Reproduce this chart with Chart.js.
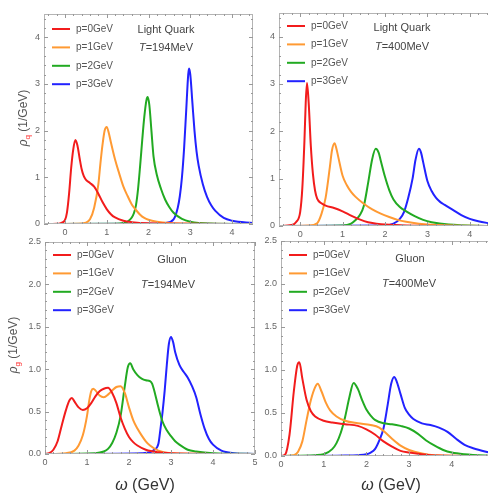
<!DOCTYPE html>
<html>
<head>
<meta charset="utf-8">
<script src="https://cdn.jsdelivr.net/npm/chart.js@4.4.1/dist/chart.umd.min.js"></script>
<style>
body { margin: 0; width: 488px; height: 493px; overflow: hidden; position: relative; background: #fff; font-family: "Liberation Sans", Arial, sans-serif; }
canvas { position: absolute; }
.note { position: absolute; font-size: 11px; color: #444; transform: translate(-50%, -50%); white-space: nowrap; }
.ytitle { position: absolute; font-size: 12px; color: #555; transform: translate(-50%, -50%) rotate(-90deg); white-space: nowrap; }
.ytitle sub { color: #f22; font-size: 8px; }
.xtitle { position: absolute; font-size: 16px; color: #333; transform: translate(-50%, -50%); white-space: nowrap; }
</style>
</head>
<body>
<canvas id="qLow" width="260" height="244" style="left:0;top:0"></canvas>
<canvas id="qHigh" width="260" height="246" style="left:235px;top:0"></canvas>
<canvas id="gLow" width="262" height="248" style="left:0;top:226px"></canvas>
<canvas id="gHigh" width="264" height="250" style="left:236px;top:226px"></canvas>

<div class="ytitle" style="left:24px;top:118px"><i>ρ</i><sub>q</sub> (1/GeV)</div>
<div class="ytitle" style="left:14px;top:345px"><i>ρ</i><sub>g</sub> (1/GeV)</div>
<div class="xtitle" style="left:145px;top:485px"><i>ω</i> (GeV)</div>
<div class="xtitle" style="left:391px;top:485px"><i>ω</i> (GeV)</div>

<div class="note" style="left:166px;top:29px">Light Quark</div>
<div class="note" style="left:166px;top:47px"><i>T</i>=194MeV</div>
<div class="note" style="left:402px;top:27px">Light Quark</div>
<div class="note" style="left:402px;top:46px"><i>T</i>=400MeV</div>
<div class="note" style="left:172px;top:259px">Gluon</div>
<div class="note" style="left:168px;top:284px"><i>T</i>=194MeV</div>
<div class="note" style="left:410px;top:258px">Gluon</div>
<div class="note" style="left:409px;top:283px"><i>T</i>=400MeV</div>

<script>
// series labels and colours
const momentumLabels = ['p=0GeV', 'p=1GeV', 'p=2GeV', 'p=3GeV'];
const lineColors = ['#f21c1c', '#ff9a33', '#22aa22', '#2222ff'];

// tick labels
const quarkXTicks = [0, 1, 2, 3, 4];
const quarkYTicks = [0, 1, 2, 3, 4];
const quarkYLabels = ['0', '1', '2', '3', '4'];
const gluonXTicks = [0, 1, 2, 3, 4, 5];
const gluonYTicks = [0, 0.5, 1, 1.5, 2, 2.5];
const gluonYLabels = ['0.0', '0.5', '1.0', '1.5', '2.0', '2.5'];

// light quark, T = 194 MeV
const q194p0x = [-0.5, -0.2, -0.1, 0, 0.05, 0.1, 0.15, 0.2, 0.25, 0.3, 0.35, 0.4, 0.45, 0.5, 0.6, 0.7, 0.8, 0.9, 1.0, 1.1, 1.2, 1.4, 1.6, 2.0, 3.0, 4.5];
const q194p0y = [0, 0.005, 0.02, 0.08, 0.25, 0.65, 1.2, 1.6, 1.8, 1.68, 1.42, 1.18, 1.03, 0.95, 0.88, 0.8, 0.65, 0.47, 0.32, 0.21, 0.14, 0.07, 0.04, 0.015, 0.005, 0];
const q194p1x = [-0.5, 0.3, 0.5, 0.6, 0.7, 0.8, 0.85, 0.9, 0.95, 1.0, 1.05, 1.1, 1.2, 1.3, 1.4, 1.5, 1.6, 1.7, 1.8, 1.9, 2.0, 2.2, 2.5, 3.0, 4.5];
const q194p1y = [0, 0.005, 0.03, 0.1, 0.35, 0.85, 1.3, 1.7, 2.0, 2.08, 1.95, 1.75, 1.38, 1.08, 0.8, 0.6, 0.42, 0.3, 0.2, 0.13, 0.09, 0.05, 0.02, 0.008, 0];
const q194p2x = [-0.5, 1.2, 1.4, 1.5, 1.6, 1.65, 1.7, 1.75, 1.8, 1.85, 1.9, 1.95, 1.98, 2.02, 2.07, 2.12, 2.2, 2.3, 2.4, 2.5, 2.6, 2.8, 3.0, 3.5, 4.5];
const q194p2y = [0, 0.005, 0.02, 0.05, 0.14, 0.23, 0.4, 0.75, 1.25, 1.8, 2.3, 2.65, 2.72, 2.55, 2.0, 1.45, 1.05, 0.75, 0.52, 0.36, 0.24, 0.11, 0.05, 0.01, 0];
const q194p3x = [-0.5, 2.2, 2.4, 2.6, 2.7, 2.75, 2.8, 2.85, 2.9, 2.95, 2.97, 3.0, 3.05, 3.1, 3.15, 3.2, 3.3, 3.4, 3.5, 3.6, 3.8, 4.0, 4.5];
const q194p3y = [0, 0.005, 0.02, 0.1, 0.35, 0.6, 1.0, 1.6, 2.4, 3.2, 3.33, 3.2, 2.6, 2.0, 1.55, 1.25, 0.85, 0.58, 0.4, 0.28, 0.13, 0.07, 0.02];

// light quark, T = 400 MeV
const q400p0x = [-0.5, -0.2, -0.1, 0, 0.05, 0.1, 0.13, 0.16, 0.2, 0.25, 0.3, 0.35, 0.4, 0.5, 0.6, 0.8, 1.0, 1.2, 1.4, 1.6, 1.8, 2.0, 2.5, 4.5];
const q400p0y = [0, 0.02, 0.08, 0.3, 0.8, 1.8, 2.6, 3.02, 2.6, 1.7, 1.1, 0.75, 0.58, 0.48, 0.43, 0.38, 0.31, 0.22, 0.14, 0.08, 0.05, 0.03, 0.01, 0];
const q400p1x = [-0.5, 0.2, 0.4, 0.5, 0.6, 0.7, 0.75, 0.81, 0.85, 0.9, 1.0, 1.1, 1.2, 1.3, 1.5, 1.7, 1.9, 2.1, 2.3, 2.5, 2.8, 3.2, 4.5];
const q400p1y = [0, 0.01, 0.06, 0.25, 0.6, 1.25, 1.6, 1.75, 1.65, 1.45, 1.06, 0.86, 0.72, 0.62, 0.47, 0.35, 0.26, 0.19, 0.13, 0.09, 0.05, 0.02, 0];
const q400p2x = [-0.5, 1.0, 1.2, 1.3, 1.4, 1.5, 1.6, 1.7, 1.78, 1.85, 1.9, 2.0, 2.1, 2.2, 2.35, 2.5, 2.7, 2.9, 3.1, 3.5, 4.5];
const q400p2y = [0, 0.01, 0.05, 0.12, 0.22, 0.42, 0.9, 1.42, 1.63, 1.55, 1.38, 1.04, 0.76, 0.56, 0.4, 0.31, 0.21, 0.13, 0.08, 0.03, 0];
const q400p3x = [-0.5, 2.0, 2.2, 2.35, 2.45, 2.55, 2.65, 2.72, 2.8, 2.85, 2.9, 3.0, 3.1, 3.2, 3.3, 3.4, 3.6, 3.8, 4.0, 4.2, 4.5];
const q400p3y = [0, 0.01, 0.05, 0.15, 0.3, 0.6, 1.0, 1.4, 1.63, 1.55, 1.35, 0.95, 0.74, 0.6, 0.51, 0.45, 0.34, 0.23, 0.15, 0.1, 0.05];

// gluon, T = 194 MeV
const g194p0x = [0, 0.1, 0.2, 0.3, 0.4, 0.5, 0.58, 0.64, 0.7, 0.8, 0.9, 1.0, 1.1, 1.2, 1.3, 1.4, 1.5, 1.6, 1.7, 1.8, 1.9, 2.0, 2.1, 2.2, 2.4, 2.7, 3.0, 5.0];
const g194p0y = [0, 0.01, 0.05, 0.15, 0.34, 0.52, 0.63, 0.66, 0.62, 0.55, 0.52, 0.54, 0.6, 0.68, 0.74, 0.77, 0.78, 0.72, 0.6, 0.43, 0.3, 0.2, 0.14, 0.1, 0.05, 0.02, 0.01, 0];
const g194p1x = [0, 0.5, 0.7, 0.8, 0.9, 1.0, 1.05, 1.1, 1.15, 1.2, 1.3, 1.4, 1.5, 1.6, 1.7, 1.8, 1.9, 2.0, 2.1, 2.2, 2.3, 2.4, 2.5, 2.7, 3.0, 5.0];
const g194p1y = [0, 0.01, 0.04, 0.1, 0.22, 0.45, 0.62, 0.74, 0.77, 0.75, 0.69, 0.67, 0.7, 0.75, 0.79, 0.8, 0.72, 0.55, 0.4, 0.3, 0.22, 0.15, 0.1, 0.04, 0.01, 0];
const g194p2x = [0, 1.2, 1.4, 1.5, 1.6, 1.7, 1.8, 1.9, 1.97, 2.03, 2.1, 2.2, 2.3, 2.4, 2.5, 2.55, 2.6, 2.7, 2.8, 2.9, 3.0, 3.1, 3.2, 3.4, 3.6, 4.0, 5.0];
const g194p2y = [0, 0.01, 0.03, 0.06, 0.13, 0.25, 0.45, 0.8, 1.02, 1.07, 1.0, 0.93, 0.89, 0.87, 0.86, 0.83, 0.75, 0.55, 0.38, 0.28, 0.21, 0.15, 0.11, 0.05, 0.03, 0.01, 0];
const g194p3x = [0, 2.3, 2.5, 2.6, 2.7, 2.75, 2.8, 2.85, 2.9, 2.95, 3.0, 3.05, 3.1, 3.2, 3.3, 3.4, 3.5, 3.6, 3.7, 3.8, 3.9, 4.0, 4.2, 4.5, 5.0];
const g194p3y = [0, 0.01, 0.02, 0.05, 0.12, 0.3, 0.5, 0.75, 1.05, 1.3, 1.38, 1.32, 1.2, 1.05, 0.97, 0.9, 0.8, 0.67, 0.47, 0.3, 0.18, 0.11, 0.04, 0.01, 0];

// gluon, T = 400 MeV
const g400p0x = [0, 0.1, 0.2, 0.3, 0.38, 0.43, 0.5, 0.6, 0.7, 0.8, 1.0, 1.2, 1.5, 1.8, 2.0, 2.2, 2.4, 2.6, 2.8, 3.0, 3.5, 5.0];
const g400p0y = [0, 0.02, 0.25, 0.75, 1.05, 1.09, 0.9, 0.65, 0.52, 0.46, 0.41, 0.39, 0.37, 0.35, 0.31, 0.25, 0.17, 0.11, 0.06, 0.04, 0.01, 0];
const g400p1x = [0, 0.3, 0.4, 0.5, 0.6, 0.7, 0.8, 0.86, 0.95, 1.05, 1.15, 1.3, 1.5, 1.8, 2.1, 2.3, 2.45, 2.6, 2.8, 3.0, 3.3, 3.6, 5.0];
const g400p1y = [0, 0.01, 0.05, 0.17, 0.42, 0.65, 0.8, 0.84, 0.75, 0.62, 0.53, 0.46, 0.41, 0.38, 0.36, 0.33, 0.27, 0.2, 0.12, 0.07, 0.03, 0.01, 0];
const g400p2x = [0, 0.8, 1.0, 1.2, 1.3, 1.4, 1.5, 1.6, 1.7, 1.8, 1.9, 2.0, 2.1, 2.2, 2.4, 2.6, 2.8, 3.0, 3.2, 3.4, 3.6, 3.8, 4.0, 4.3, 5.0];
const g400p2y = [0, 0.01, 0.02, 0.08, 0.15, 0.27, 0.45, 0.68, 0.85, 0.78, 0.65, 0.54, 0.47, 0.42, 0.38, 0.37, 0.35, 0.32, 0.26, 0.18, 0.12, 0.07, 0.04, 0.02, 0];
const g400p3x = [0, 1.5, 1.8, 2.0, 2.1, 2.2, 2.3, 2.4, 2.5, 2.58, 2.65, 2.7, 2.8, 2.9, 3.0, 3.1, 3.3, 3.5, 3.7, 3.9, 4.1, 4.3, 4.5, 4.8, 5.0];
const g400p3y = [0, 0.005, 0.01, 0.02, 0.04, 0.08, 0.18, 0.32, 0.6, 0.84, 0.92, 0.88, 0.72, 0.56, 0.48, 0.43, 0.38, 0.36, 0.33, 0.28, 0.2, 0.13, 0.09, 0.05, 0.03];

// frame with inward major/minor ticks (Mathematica style)
const frameTicks = {
    id: 'frameTicks',
    afterDraw(chart, args, opts) {
        const { ctx, chartArea: a, scales: { x, y } } = chart;
        ctx.save();
        ctx.strokeStyle = '#b4b4b4';
        ctx.lineWidth = 1;
        ctx.strokeRect(a.left + 0.5, a.top + 0.5, a.right - a.left - 1, a.bottom - a.top - 1);
        const mark = (scale, step, len, horizontal) => {
            const first = Math.ceil((scale.min - 1e-9) / step) * step;
            for (let v = first; v <= scale.max + 1e-9; v += step) {
                const p = Math.round(scale.getPixelForValue(v)) + 0.5;
                ctx.beginPath();
                if (horizontal) {
                    ctx.moveTo(p, a.bottom); ctx.lineTo(p, a.bottom - len);
                    ctx.moveTo(p, a.top); ctx.lineTo(p, a.top + len);
                } else {
                    ctx.moveTo(a.left, p); ctx.lineTo(a.left + len, p);
                    if (opts.rightTicks) {
                        ctx.moveTo(a.right, p); ctx.lineTo(a.right - len, p);
                    }
                }
                ctx.stroke();
            }
        };
        ctx.strokeStyle = '#999';
        mark(x, opts.xMajor, 4, true);
        mark(x, opts.xMinor, 2, true);
        mark(y, opts.yMajor, 4, false);
        mark(y, opts.yMinor, 2, false);
        ctx.restore();
    }
};

// legend drawn inside the plot frame, top-left, one row per series
const innerLegend = {
    id: 'innerLegend',
    afterDatasetsDraw(chart, args, opts) {
        const { ctx, chartArea: a } = chart;
        ctx.save();
        ctx.font = '10px "Liberation Sans", Arial, sans-serif';
        ctx.textBaseline = 'middle';
        chart.data.datasets.forEach((ds, i) => {
            const y = a.top + opts.top + i * opts.step;
            const x0 = a.left + opts.left;
            ctx.strokeStyle = ds.borderColor;
            ctx.lineWidth = 2;
            ctx.beginPath();
            ctx.moveTo(x0, y);
            ctx.lineTo(x0 + 18, y);
            ctx.stroke();
            ctx.fillStyle = '#555';
            ctx.fillText(ds.label, x0 + 24, y);
        });
        ctx.restore();
    }
};

function makePanel(id, cfg) {
    const datasets = cfg.series.map((s, i) => ({
        label: momentumLabels[i],
        data: s[0].map((xv, j) => ({ x: xv, y: s[1][j] })),
        borderColor: lineColors[i],
        backgroundColor: lineColors[i],
        borderWidth: 2,
        pointRadius: 0,
        cubicInterpolationMode: 'monotone',
        fill: false
    }));
    return new Chart(document.getElementById(id), {
        type: 'line',
        data: { datasets },
        plugins: [frameTicks, innerLegend],
        options: {
            responsive: false,
            animation: false,
            devicePixelRatio: 1,
            layout: { padding: cfg.pad },
            plugins: {
                legend: { display: false },
                tooltip: { enabled: false },
                frameTicks: cfg.ticks,
                innerLegend: { left: 8, top: cfg.legendTop, step: 18.4 }
            },
            scales: {
                x: {
                    type: 'linear',
                    min: cfg.xMin,
                    max: cfg.xMax,
                    afterBuildTicks: s => { s.ticks = cfg.xTicks.map(v => ({ value: v })); },
                    afterFit: s => { s.height = 16; },
                    grid: { display: false, drawTicks: false },
                    border: { display: false },
                    ticks: {
                        autoSkip: false, maxRotation: 0, padding: 3, color: '#666',
                        font: { size: 9 },
                        callback: (v, i) => String(cfg.xTicks[i])
                    }
                },
                y: {
                    type: 'linear',
                    min: 0,
                    max: cfg.yMax,
                    afterBuildTicks: s => { s.ticks = cfg.yTicks.map(v => ({ value: v })); },
                    afterFit: s => { s.width = 22; },
                    grid: { display: false, drawTicks: false },
                    border: { display: false },
                    ticks: {
                        autoSkip: false, padding: 4, color: '#666',
                        font: { size: 9 },
                        callback: (v, i) => cfg.yLabels[i]
                    }
                }
            }
        }
    });
}

const quarkTicks = { xMajor: 1, xMinor: 0.2, yMajor: 1, yMinor: 0.2, rightTicks: true };
const quarkTicksCut = { xMajor: 1, xMinor: 0.2, yMajor: 1, yMinor: 0.2, rightTicks: false };
const gluonTicks = { xMajor: 1, xMinor: 0.2, yMajor: 0.5, yMinor: 0.1, rightTicks: true };
const gluonTicksCut = { xMajor: 1, xMinor: 0.2, yMajor: 0.5, yMinor: 0.1, rightTicks: false };

makePanel('qLow', {
    pad: { left: 22, top: 14, right: 7, bottom: 4 }, legendTop: 15,
    xMin: -0.5, xMax: 4.5, yMax: 4.5,
    xTicks: quarkXTicks, yTicks: quarkYTicks, yLabels: quarkYLabels, ticks: quarkTicks,
    series: [[q194p0x, q194p0y], [q194p1x, q194p1y], [q194p2x, q194p2y], [q194p3x, q194p3y]]
});
makePanel('qHigh', {
    pad: { left: 22, top: 13, right: 4, bottom: 4 }, legendTop: 13,
    xMin: -0.5, xMax: 4.5, yMax: 4.5,
    xTicks: quarkXTicks, yTicks: quarkYTicks, yLabels: quarkYLabels, ticks: quarkTicksCut,
    series: [[q400p0x, q400p0y], [q400p1x, q400p1y], [q400p2x, q400p2y], [q400p3x, q400p3y]]
});
makePanel('gLow', {
    pad: { left: 23, top: 16, right: 7, bottom: 4 }, legendTop: 13,
    xMin: 0, xMax: 5, yMax: 2.5,
    xTicks: gluonXTicks, yTicks: gluonYTicks, yLabels: gluonYLabels, ticks: gluonTicks,
    series: [[g194p0x, g194p0y], [g194p1x, g194p1y], [g194p2x, g194p2y], [g194p3x, g194p3y]]
});
makePanel('gHigh', {
    pad: { left: 23, top: 15, right: 4, bottom: 4 }, legendTop: 14,
    xMin: 0, xMax: 5, yMax: 2.5,
    xTicks: gluonXTicks, yTicks: gluonYTicks, yLabels: gluonYLabels, ticks: gluonTicksCut,
    series: [[g400p0x, g400p0y], [g400p1x, g400p1y], [g400p2x, g400p2y], [g400p3x, g400p3y]]
});
</script>
</body>
</html>
